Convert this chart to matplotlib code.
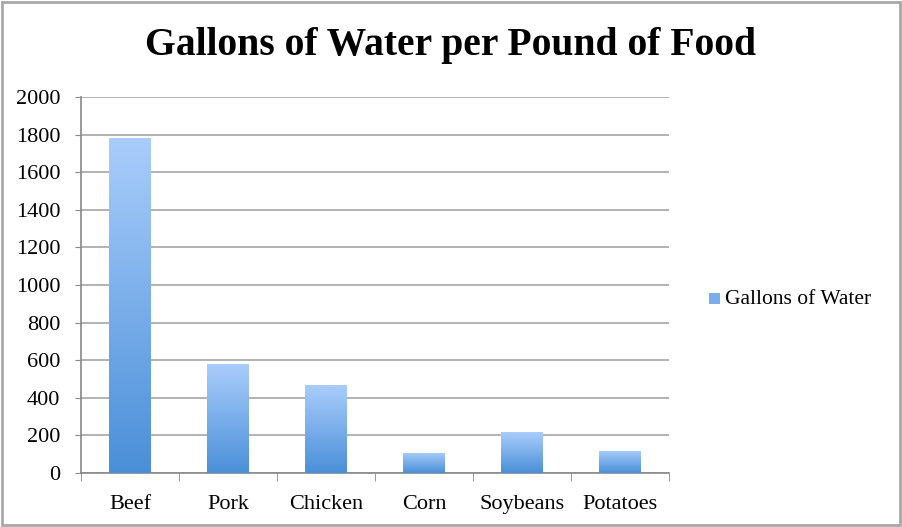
import matplotlib.pyplot as plt
import numpy as np
from matplotlib.colors import LinearSegmentedColormap
from matplotlib.patches import Rectangle

foods = ['Beef', 'Pork', 'Chicken', 'Corn', 'Soybeans', 'Potatoes']
gallons = [1780, 578, 468, 107, 217, 118]
series_name = 'Gallons of Water'
y_ticks = [0, 200, 400, 600, 800, 1000, 1200, 1400, 1600, 1800, 2000]

plt.rcParams['font.family'] = ['Liberation Serif', 'DejaVu Serif']

grad = LinearSegmentedColormap.from_list('blu', ['#4a8fd8', '#a9cdfb'])

fig = plt.figure(figsize=(9.02, 5.27), dpi=100)
fig.patches.append(Rectangle((0.002, 0.003), 0.996, 0.994, transform=fig.transFigure,
                             fill=False, edgecolor='#a8a8a8', linewidth=2))
ax = fig.add_axes([81 / 902, 1 - 473 / 527, 588 / 902, 376 / 527])

x = np.arange(len(foods))
bars = ax.bar(x, gallons, width=0.42, color='none', zorder=3)
gimg = np.linspace(0, 1, 256).reshape(-1, 1)
for b in bars:
    x0, w, h = b.get_x(), b.get_width(), b.get_height()
    im = ax.imshow(gimg, cmap=grad, origin='lower', aspect='auto',
                   extent=[x0, x0 + w, 0, h], zorder=3)
    im.set_clip_path(b)

ax.set_xlim(-0.5, len(foods) - 0.5)
ax.set_ylim(0, 2000)
ax.set_yticks(y_ticks)
ax.set_yticklabels([str(v) for v in y_ticks], fontsize=16)
ax.set_xticks(x)
ax.set_xticklabels(foods, fontsize=16)
ax.set_xticks(np.arange(-0.5, len(foods), 1), minor=True)
ax.tick_params(axis='x', which='major', length=0, pad=16)
ax.tick_params(axis='x', which='minor', length=6, color='#888888', direction='out')
ax.tick_params(axis='y', length=4, color='#888888', pad=11)
ax.grid(axis='y', color='#a6a6a6', linewidth=1.2, zorder=0)
for s in ['top', 'right']:
    ax.spines[s].set_visible(False)
for s in ['left', 'bottom']:
    ax.spines[s].set_color('#888888')
    ax.spines[s].set_linewidth(1.2)

fig.text(451 / 902, 1 - 46 / 527, 'Gallons of Water per Pound of Food', ha='center',
         va='center', fontsize=28.5, fontweight='bold')

# legend
lx, ly = 709 / 902, 1 - 300 / 527
fig.patches.append(Rectangle((lx, ly - 0.008), 11 / 902, 11 / 527, transform=fig.transFigure,
                             facecolor='#7aaeea', edgecolor='none'))
fig.text(lx + 16 / 902, ly, series_name, fontsize=15.5, va='center', ha='left')

fig.savefig('out.png', dpi=100)
